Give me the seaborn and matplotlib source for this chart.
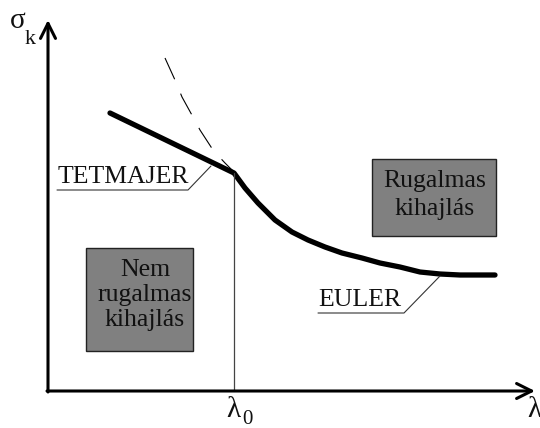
import matplotlib
matplotlib.use("Agg")
import matplotlib.pyplot as plt
import seaborn as sns
import pandas as pd
from matplotlib.patches import Rectangle

sns.set_theme(style="white")
plt.rcParams['font.family'] = ['Liberation Serif', 'DejaVu Serif']

# --- data (lambda, sigma_k in abstract diagram units) ---
tetmajer_lam = [62, 186]
tetmajer_sig = [278, 218]
euler_lam = [186, 197, 210, 227, 244, 260, 277, 294, 314, 332, 352, 372, 392, 412, 447]
euler_sig = [218, 203, 188, 171, 159, 151, 144, 138, 133, 128, 124, 119, 117, 116, 116]
euler_ext_lam = [117, 127, 134, 145, 152, 165, 177, 189]
euler_ext_sig = [333, 311, 294, 274, 261, 241, 228, 216]
lambda0 = 186
axis_x_end = 487
axis_y_end = 371

# region boxes: (lam_left, sig_bottom, width, height, label)
box_elastic = (324, 155, 124, 77, "Rugalmas\nkihajlás")
box_inelastic = (38, 40, 107, 103, "Nem\nrugalmas\nkihajlás")

# label leader lines
tet_leader_lam = [9, 140, 163]
tet_leader_sig = [201, 201, 225]
eul_leader_lam = [270, 356, 392]
eul_leader_sig = [78, 78, 115]

fig = plt.figure(figsize=(5.4, 4.28), dpi=100)
ax = fig.add_axes([0, 0, 1, 1])
ax.set_xlim(-48, 492)
ax.set_ylim(-37, 391)
ax.axis("off")

main = pd.DataFrame({"lam": tetmajer_lam[:-1] + euler_lam,
                     "sig": tetmajer_sig[:-1] + euler_sig})
sns.lineplot(data=main, x="lam", y="sig", sort=False, ax=ax, color="black",
             lw=3.8, solid_capstyle="round", solid_joinstyle="round")
ext = pd.DataFrame({"lam": euler_ext_lam, "sig": euler_ext_sig})
sns.lineplot(data=ext, x="lam", y="sig", sort=False, ax=ax, color="black",
             lw=0.8, linestyle=(0, (21, 14)))

# lambda0 vertical line
ax.plot([lambda0, lambda0], [0, tetmajer_sig[-1]], color="#444444", lw=0.9)

# axes with arrows
ax.annotate("", xy=(axis_x_end, 0), xytext=(-1, 0),
            arrowprops=dict(arrowstyle="->,head_length=0.9,head_width=0.45", lw=2.2, color="black",
                            shrinkA=0, shrinkB=0))
ax.annotate("", xy=(0, axis_y_end), xytext=(0, -1),
            arrowprops=dict(arrowstyle="->,head_length=0.9,head_width=0.45", lw=2.2, color="black",
                            shrinkA=0, shrinkB=0))

# boxes
for (l, b, w, h, txt) in [box_elastic, box_inelastic]:
    ax.add_patch(Rectangle((l, b), w, h, facecolor="#808080", edgecolor="#222222", lw=1.0))
for (cx, cy, txt, ls) in [(box_elastic[0] + 63, 196, box_elastic[4], 1.3),
                          (box_inelastic[0] + 59, 96, box_inelastic[4], 1.15)]:
    ax.text(cx, cy, txt, ha="center", va="center", fontsize=18.5, color="#111111",
            linespacing=ls)

# labels with leaders
ax.text(10, 203, "TETMAJER", fontsize=18.5, ha="left", va="bottom", color="#111111")
ax.plot(tet_leader_lam, tet_leader_sig, color="#333333", lw=0.8)
ax.text(270, 80, "EULER", fontsize=18.5, ha="left", va="bottom", color="#111111")
ax.plot(eul_leader_lam, eul_leader_sig, color="#333333", lw=0.8)

# axis labels
ax.text(-38, 370, "σ", fontsize=21, ha="left", va="center", color="#111111")
ax.text(-23, 352, "k", fontsize=16, ha="left", va="center", color="#111111")
ax.text(lambda0 - 8, -19, "λ", fontsize=21, ha="left", va="center", color="#111111")
ax.text(lambda0 + 8, -29, "0", fontsize=15, ha="left", va="center", color="#111111")
ax.text(479, -19, "λ", fontsize=21, ha="left", va="center", color="#111111")

fig.savefig("out.png", dpi=100)
